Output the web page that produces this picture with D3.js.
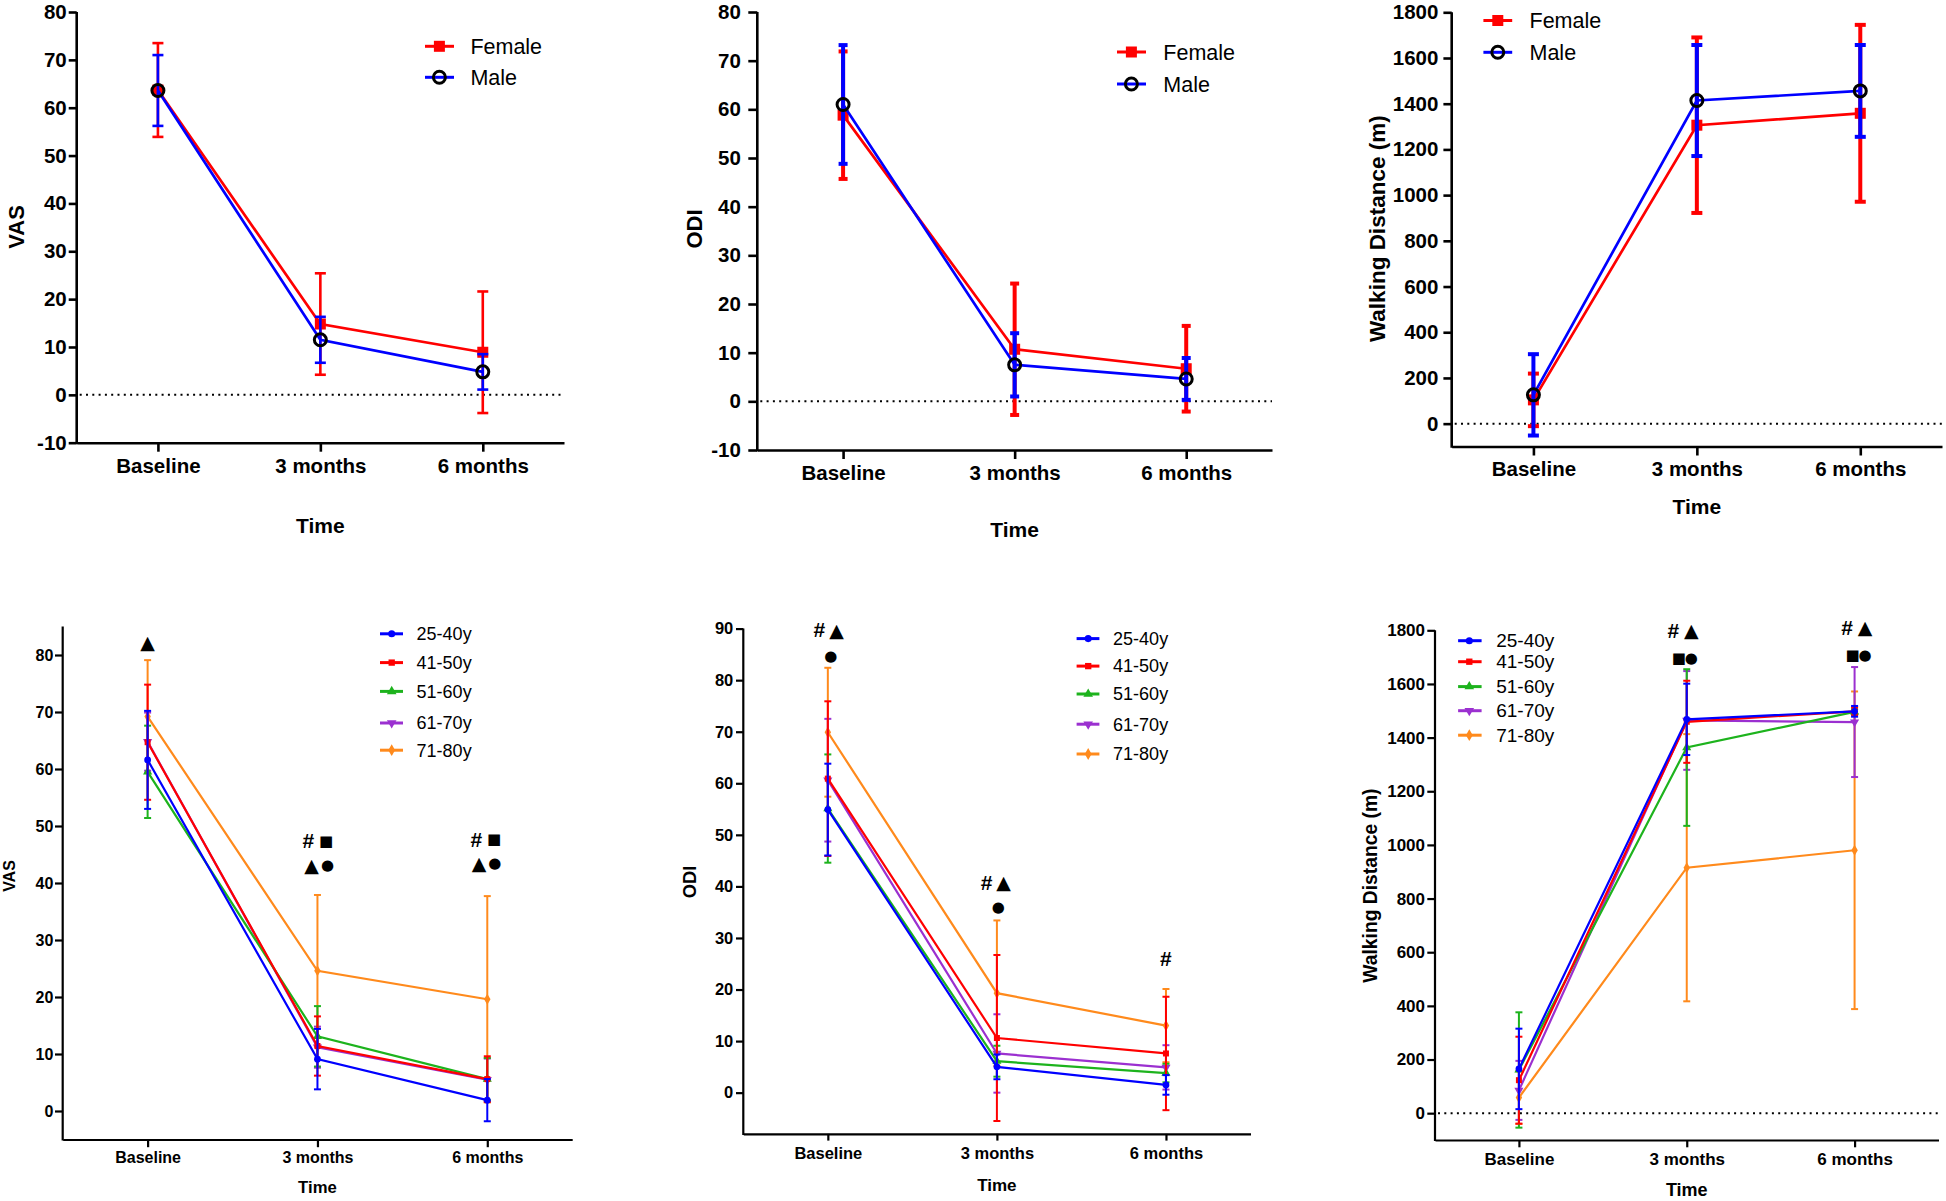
<!DOCTYPE html>
<html><head><meta charset="utf-8">
<script src="https://cdn.jsdelivr.net/npm/d3@7"></script>
<style>
body{margin:0;background:#fff}
svg{display:block}
text{font-family:"Liberation Sans",Arial,sans-serif}
</style>
</head><body>
<svg id="c" width="1946" height="1201"></svg>
<script>
// ---------------- DATA ----------------
const categories = ["Baseline", "3 months", "6 months"];
const sexGroups = ["Female", "Male"];
const ageGroups = ["25-40y", "41-50y", "51-60y", "61-70y", "71-80y"];

// VAS by sex (mean, SD)
const vasFemaleMean = [63.7, 14.8, 8.9];
const vasFemaleSd   = [9.8, 10.6, 12.7];
const vasMaleMean   = [63.6, 11.5, 4.8];
const vasMaleSd     = [7.4, 4.8, 3.7];
// ODI by sex
const odiFemaleMean = [58.8, 10.7, 6.7];
const odiFemaleSd   = [13.1, 13.5, 8.8];
const odiMaleMean   = [61.0, 7.5, 4.6];
const odiMaleSd     = [12.2, 6.5, 4.3];
// Walking distance by sex
const wdFemaleMean = [104, 1306, 1358];
const wdFemaleSd   = [115, 384, 387];
const wdMaleMean   = [126, 1414, 1456];
const wdMaleSd     = [178, 243, 201];

// VAS by age group
const vasAgeMean = [
  [61.6, 9.1, 1.9],
  [64.7, 11.4, 5.6],
  [59.5, 13.1, 5.6],
  [64.8, 11.2, 5.5],
  [69.2, 24.6, 19.6]
];
const vasAgeSd = [
  [8.6, 5.3, 3.7],
  [10.1, 5.2, 4.0],
  [8.1, 5.3, 3.7],
  [5.1, 3.6, 3.7],
  [9.9, 13.3, 18.1]
];
// ODI by age group
const odiAgeMean = [
  [54.9, 5.0, 1.5],
  [60.9, 10.6, 7.6],
  [55.1, 6.1, 3.8],
  [60.6, 7.6, 4.9],
  [69.9, 19.3, 13.0]
];
const odiAgeSd = [
  [8.9, 2.4, 1.9],
  [15.0, 16.1, 11.0],
  [10.5, 3.0, 1.8],
  [11.9, 7.6, 4.3],
  [12.5, 14.1, 7.1]
];
// Walking distance by age group
const wdAgeMean = [
  [165, 1468, 1498],
  [123, 1459, 1498],
  [161, 1363, 1496],
  [85, 1464, 1458],
  [58, 915, 980]
];
const wdAgeSd = [
  [150, 133, 20],
  [162, 153, 15],
  [215, 292, 10],
  [110, 184, 205],
  [98, 498, 592]
];

// Significance annotations: [category index, value, glyph, dx]
const vasAgeNotes = [
  [0, 82.2, "▲", 0],
  [1, 47.4, "#", -9], [1, 47.4, "■", 8.7], [1, 43.2, "▲", -6], [1, 43.2, "●", 10],
  [2, 47.7, "#", -11], [2, 47.7, "■", 6.7], [2, 43.5, "▲", -8.2], [2, 43.5, "●", 7.6]
];
const odiAgeNotes = [
  [0, 89.8, "#", -8.6], [0, 89.8, "▲", 8.8], [0, 84.7, "●", 3],
  [1, 40.8, "#", -10.3], [1, 40.8, "▲", 6.7], [1, 36.0, "●", 1.3],
  [2, 26.0, "#", 0]
];
const wdAgeNotes = [
  [1, 1800, "#", -13.3], [1, 1800, "▲", 4.5], [1, 1697, "■", -8], [1, 1697, "●", 4.5],
  [2, 1811, "#", -7.4], [2, 1811, "▲", 10.4], [2, 1708, "■", -2], [2, 1708, "●", 10.4]
];

// ---------------- STYLE ----------------
const sexColors = ["#ff0000", "#0000ff"];
const ageColors = ["#0000ff", "#ff0000", "#1db31d", "#9b30d0", "#ff8a1c"];
const ageSymbols = [d3.symbolCircle, d3.symbolSquare, d3.symbolTriangle, "tdown", d3.symbolDiamond];

const svg = d3.select("#c");

const panels = [
  {x0:76.7, x1:564, yTop:12, yBot:442.7, domain:[-10,80], ticks:d3.range(-10,81,10), zero:true,
   yTick:8, yPad:2, xTick:9, xLabY:23.3, tickFont:20.5, axisW:2.6,
   yTitle:"VAS", yTitleX:16.7, yTitleY:227, titleFont:22, timeY:526, timeFont:21,
   kind:"sex", means:[vasFemaleMean, vasMaleMean], sds:[vasFemaleSd, vasMaleSd],
   legend:{lx0:425, lx1:454, mx:439.4, tx:470.4, ys:[46.3,77.3], font:21.5},
   errW:2.6, capW:11, lineW:2.7},
  {x0:757.3, x1:1272, yTop:12, yBot:450, domain:[-10,80], ticks:d3.range(-10,81,10), zero:true,
   yTick:9, yPad:7.5, xTick:9, xLabY:22.7, tickFont:20.5, axisW:2.6,
   yTitle:"ODI", yTitleX:694.3, yTitleY:229, titleFont:22, timeY:530, timeFont:21,
   kind:"sex", means:[odiFemaleMean, odiMaleMean], sds:[odiFemaleSd, odiMaleSd],
   legend:{lx0:1117, lx1:1146, mx:1131.4, tx:1163.3, ys:[52,84], font:21.5},
   errW:4, capW:9, lineW:2.7},
  {x0:1451.7, x1:1942, yTop:12.3, yBot:446.5, domain:[-100,1800], ticks:d3.range(0,1801,200), zero:true,
   yTick:8.3, yPad:5, xTick:9, xLabY:22.8, tickFont:20.5, axisW:2.6,
   yTitle:"Walking Distance (m)", yTitleX:1376.7, yTitleY:228.7, titleFont:22.5, timeY:507, timeFont:21,
   kind:"sex", means:[wdFemaleMean, wdMaleMean], sds:[wdFemaleSd, wdMaleSd],
   legend:{lx0:1483.4, lx1:1512.2, mx:1497.8, tx:1529.5, ys:[20.5,52.3], font:21.5},
   errW:4, capW:11, lineW:2.7},
  {x0:62.7, x1:572.2, yTop:626.5, yBot:1139.5, domain:[-5,85], ticks:d3.range(0,81,10), zero:false,
   yTick:7.7, yPad:1.7, xTick:7.7, xLabY:18.3, tickFont:16, axisW:2.2,
   yTitle:"VAS", yTitleX:9, yTitleY:876, titleFont:16, timeY:1187.3, timeFont:16.7,
   kind:"age", means:vasAgeMean, sds:vasAgeSd, notes:vasAgeNotes,
   legend:{lx0:380, lx1:403, mx:391.7, tx:416.6, ys:[633.8,662.6,691.4,723,750.2], font:18},
   errW:2, capW:7, lineW:2.2},
  {x0:743.3, x1:1250.5, yTop:628.6, yBot:1133.9, domain:[-8,90], ticks:d3.range(0,91,10), zero:false,
   yTick:7.3, yPad:2.7, xTick:6.7, xLabY:19, tickFont:16.5, axisW:2.2,
   yTitle:"ODI", yTitleX:689.5, yTitleY:882, titleFont:18.3, timeY:1185, timeFont:17,
   kind:"age", means:odiAgeMean, sds:odiAgeSd, notes:odiAgeNotes,
   legend:{lx0:1076.6, lx1:1099.4, mx:1088.2, tx:1113.1, ys:[638.6,666.1,694,724.2,754], font:18},
   errW:2, capW:7, lineW:2.2},
  {x0:1435, x1:1938.5, yTop:630.3, yBot:1140, domain:[-100,1800], ticks:d3.range(0,1801,200), zero:true,
   yTick:7.7, yPad:2.3, xTick:7.3, xLabY:19.3, tickFont:17, axisW:2.2,
   yTitle:"Walking Distance (m)", yTitleX:1370, yTitleY:885.6, titleFont:19.3, timeY:1190, timeFont:18,
   kind:"age", means:wdAgeMean, sds:wdAgeSd, notes:wdAgeNotes,
   legend:{lx0:1458.1, lx1:1481.6, mx:1469.3, tx:1496.2, ys:[640.7,661.7,686.6,710.7,735.2], font:19},
   errW:2, capW:7, lineW:2.2}
];

function ageMarker(g, i, cx, cy, size) {
  const t = ageSymbols[i];
  const isDown = t === "tdown";
  const sym = d3.symbol().type(isDown ? d3.symbolTriangle : t).size(size);
  g.append("path").attr("d", sym())
    .attr("transform", `translate(${cx},${cy})` + (isDown ? " rotate(180)" : ""))
    .attr("fill", ageColors[i]);
}

function sexMarker(g, i, cx, cy) {
  if (i === 0) {
    g.append("rect").attr("x", cx - 5.5).attr("y", cy - 5.5).attr("width", 11).attr("height", 11)
      .attr("fill", sexColors[0]);
  } else {
    g.append("circle").attr("cx", cx).attr("cy", cy).attr("r", 6)
      .attr("fill", "none").attr("stroke", "#000").attr("stroke-width", 3);
  }
}

function drawPanel(p) {
  const g = svg.append("g");
  const x = d3.scalePoint().domain(categories).range([p.x0, p.x1]).padding(0.5);
  const y = d3.scaleLinear().domain(p.domain).range([p.yBot, p.yTop]);

  if (p.zero) {
    g.append("line").attr("x1", p.x0 + 3).attr("x2", p.x1).attr("y1", y(0)).attr("y2", y(0))
      .attr("stroke", "#000").attr("stroke-width", 2).attr("stroke-dasharray", "2,4.3");
  }

  // axes
  const xa = g.append("g").attr("transform", `translate(0,${p.yBot})`)
    .call(d3.axisBottom(x).tickSize(p.xTick).tickSizeOuter(0));
  xa.selectAll("text").attr("y", p.xLabY).attr("dy", "0.35em");
  const ya = g.append("g").attr("transform", `translate(${p.x0},0)`)
    .call(d3.axisLeft(y).tickValues(p.ticks).tickSize(p.yTick).tickSizeOuter(0).tickPadding(p.yPad)
      .tickFormat(d => String(d)));
  [xa, ya].forEach(a => {
    a.attr("font-family", null).attr("font-size", null);
    a.selectAll("text").attr("font-size", p.tickFont).attr("font-weight", "bold").attr("fill", "#000");
    a.selectAll("line").attr("stroke", "#000").attr("stroke-width", p.axisW);
    a.select(".domain").attr("stroke", "#000").attr("stroke-width", p.axisW);
  });
  ya.select(".domain").attr("d", `M0,${p.yBot + p.axisW / 2}V${p.yTop}`);

  // titles
  g.append("text").attr("transform", `translate(${p.yTitleX},${p.yTitleY}) rotate(-90)`)
    .attr("text-anchor", "middle").attr("dy", "0.35em")
    .attr("font-size", p.titleFont).attr("font-weight", "bold").text(p.yTitle);
  g.append("text").attr("x", x(categories[1])).attr("y", p.timeY).attr("dy", "0.35em")
    .attr("text-anchor", "middle").attr("font-size", p.timeFont).attr("font-weight", "bold").text("Time");

  const line = d3.line().x((d, i) => x(categories[i])).y(d => y(d));

  if (p.kind === "sex") {
    sexGroups.forEach((name, s) => {
      const col = sexColors[s];
      const m = p.means[s], sd = p.sds[s];
      const sg = g.append("g");
      m.forEach((v, i) => {
        const cx = x(categories[i]);
        const lo = y(v - sd[i]), hi = y(v + sd[i]);
        sg.append("line").attr("x1", cx).attr("x2", cx).attr("y1", lo).attr("y2", hi)
          .attr("stroke", col).attr("stroke-width", p.errW);
        [lo, hi].forEach(yy => sg.append("line").attr("x1", cx - p.capW / 2).attr("x2", cx + p.capW / 2)
          .attr("y1", yy).attr("y2", yy).attr("stroke", col).attr("stroke-width", p.errW));
      });
      sg.append("path").attr("d", line(m)).attr("fill", "none").attr("stroke", col).attr("stroke-width", p.lineW);
      m.forEach((v, i) => sexMarker(sg, s, x(categories[i]), y(v)));
      // legend
      const L = p.legend, ly = L.ys[s];
      g.append("line").attr("x1", L.lx0).attr("x2", L.lx1).attr("y1", ly).attr("y2", ly)
        .attr("stroke", col).attr("stroke-width", 3);
      sexMarker(g, s, L.mx, ly);
      g.append("text").attr("x", L.tx).attr("y", ly).attr("dy", "0.35em")
        .attr("font-size", L.font).text(name);
    });
  } else {
    const order = [4, 3, 2, 1, 0];
    order.forEach(s => {
      const col = ageColors[s];
      const m = p.means[s], sd = p.sds[s];
      const sg = g.append("g");
      m.forEach((v, i) => {
        const cx = x(categories[i]);
        const lo = y(v - sd[i]), hi = y(v + sd[i]);
        sg.append("line").attr("x1", cx).attr("x2", cx).attr("y1", lo).attr("y2", hi)
          .attr("stroke", col).attr("stroke-width", p.errW);
        [lo, hi].forEach(yy => sg.append("line").attr("x1", cx - p.capW / 2).attr("x2", cx + p.capW / 2)
          .attr("y1", yy).attr("y2", yy).attr("stroke", col).attr("stroke-width", p.errW));
      });
      sg.append("path").attr("d", line(m)).attr("fill", "none").attr("stroke", col).attr("stroke-width", p.lineW);
      m.forEach((v, i) => ageMarker(sg, s, x(categories[i]), y(v), 36));
    });
    ageGroups.forEach((name, s) => {
      const L = p.legend, ly = L.ys[s];
      g.append("line").attr("x1", L.lx0).attr("x2", L.lx1).attr("y1", ly).attr("y2", ly)
        .attr("stroke", ageColors[s]).attr("stroke-width", 3);
      ageMarker(g, s, L.mx, ly, 40);
      g.append("text").attr("x", L.tx).attr("y", ly).attr("dy", "0.35em")
        .attr("font-size", L.font).text(name);
    });
    // annotations
    const glyphSize = {"#": 21, "▲": 19, "■": 15, "●": 15};
    p.notes.forEach(([ci, v, gl, dx]) => {
      g.append("text").attr("x", x(categories[ci]) + dx).attr("y", y(v))
        .attr("text-anchor", "middle").attr("dominant-baseline", "central")
        .style("font-family", gl === "#" ? "'Liberation Sans', Arial, sans-serif" : "'DejaVu Sans', sans-serif")
        .attr("font-weight", "bold")
        .attr("font-size", glyphSize[gl]).text(gl);
    });
  }
}

panels.forEach(drawPanel);
</script>
</body></html>
